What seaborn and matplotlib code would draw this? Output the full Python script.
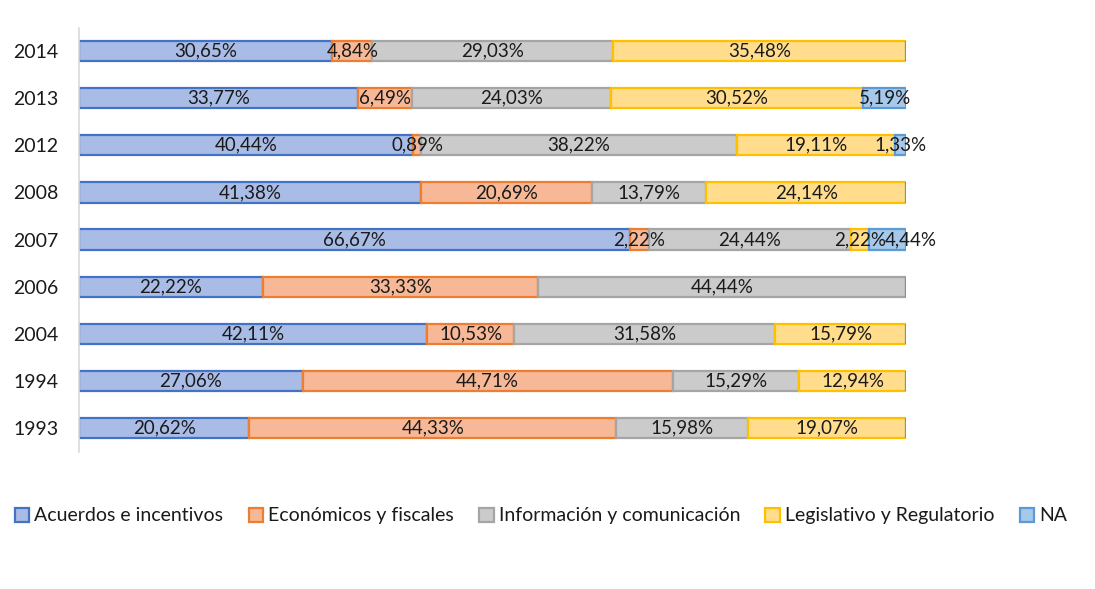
import matplotlib
matplotlib.use("Agg")
import matplotlib.pyplot as plt
import seaborn as sns
import numpy as np
import pandas as pd
from matplotlib.patches import Patch

years = ["2014", "2013", "2012", "2008", "2007", "2006", "2004", "1994", "1993"]
categories = ["Acuerdos e incentivos", "Económicos y fiscales",
              "Información y comunicación", "Legislativo y Regulatorio", "NA"]
acuerdos = [30.65, 33.77, 40.44, 41.38, 66.67, 22.22, 42.11, 27.06, 20.62]
economicos = [4.84, 6.49, 0.89, 20.69, 2.22, 33.33, 10.53, 44.71, 44.33]
informacion = [29.03, 24.03, 38.22, 13.79, 24.44, 44.44, 31.58, 15.29, 15.98]
legislativo = [35.48, 30.52, 19.11, 24.14, 2.22, 0, 15.79, 12.94, 19.07]
na = [0, 5.19, 1.33, 0, 4.44, 0, 0, 0, 0]
series = [acuerdos, economicos, informacion, legislativo, na]

fills = ["#A9BCE6", "#F6B896", "#CBCBCB", "#FFDD8C", "#A6C8EA"]
edges = ["#4472C4", "#ED7D31", "#A5A5A5", "#FFC000", "#5B9BD5"]

# label nudges (points) to avoid collisions, like the original
nudges = {("NA", "2007"): 17}

sns.set_theme(style="white")
plt.rcParams["font.family"] = ["Lato", "DejaVu Sans"]

fig = plt.figure(figsize=(10.95, 5.89), dpi=100)
ax = fig.add_axes([0.0721, 0.2334, 0.7553, 0.7199])

left = np.zeros(len(years))
for i, (name, vals) in enumerate(zip(categories, series)):
    df = pd.DataFrame({"year": years, "value": vals})
    sns.barplot(data=df, x="value", y="year", order=years, orient="h",
                color=fills[i], edgecolor=edges[i], linewidth=1.6,
                width=0.43, left=left.copy(), ax=ax, saturation=1,
                errorbar=None)
    cont = ax.containers[-1]
    labels = [(f"{v:.2f}".replace(".", ",") + "%") if v > 0 else "" for v in vals]
    anns = ax.bar_label(cont, labels=labels, label_type="center",
                        fontsize=13.5, color="#1a1a1a")
    for yr, ann in zip(years, anns):
        if (name, yr) in nudges:
            ann.xyann = (nudges[(name, yr)], 0)
    left = left + np.array(vals)

ax.set_xlim(0, 100)
ax.set_xlabel("")
ax.set_ylabel("")
ax.set_xticks([])
ax.tick_params(axis="y", length=0, pad=15, labelsize=14, labelcolor="#1a1a1a")
for s in ["top", "right", "bottom"]:
    ax.spines[s].set_visible(False)
ax.spines["left"].set_color("#D9D9D9")
ax.spines["left"].set_linewidth(1.2)

handles = [Patch(facecolor=f, edgecolor=e, linewidth=1.6) for f, e in zip(fills, edges)]
fig.legend(handles, categories, loc="center", bbox_to_anchor=(0.494, 0.124),
           ncol=5, frameon=False, fontsize=14, handlelength=0.75, handleheight=0.75,
           handletextpad=0.25, columnspacing=1.3, labelcolor="#1a1a1a")

fig.savefig("out.png", dpi=100)
